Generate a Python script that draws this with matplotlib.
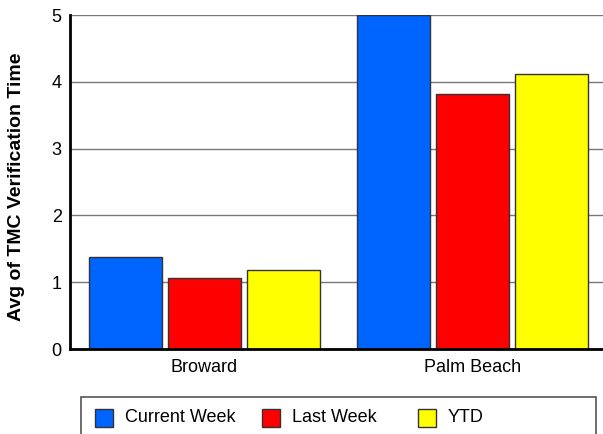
import matplotlib
matplotlib.use("Agg")
import matplotlib.pyplot as plt
from matplotlib.patches import Rectangle
import numpy as np

plt.rcParams['font.family'] = ['Liberation Sans', 'DejaVu Sans']

categories = ["Broward", "Palm Beach"]
series_names = ["Current Week", "Last Week", "YTD"]
current_week = [1.38, 5.0]
last_week = [1.07, 3.82]
ytd = [1.19, 4.11]
series_values = [current_week, last_week, ytd]
colors = ["#0064FF", "#FF0000", "#FFFF00"]
y_ticks = [0, 1, 2, 3, 4, 5]

W, H = 603, 434
fig = plt.figure(figsize=(W / 100, H / 100), dpi=100)
ax = fig.add_axes([70 / W, 85 / H, (607 - 70) / W, (349 - 15) / H])

x = np.arange(len(categories))
bw = 0.272
offs = [-0.294, 0.0, 0.294]
for vals, col, off, name in zip(series_values, colors, offs, series_names):
    ax.bar(x + off, vals, width=bw, color=col, edgecolor="#333333",
           linewidth=1.0, zorder=3, label=name)

ax.set_xlim(-0.5, 1.5)
ax.set_ylim(0, 5)
ax.set_yticks(y_ticks)
ax.set_yticklabels([str(t) for t in y_ticks], fontsize=13)
ax.set_xticks(x)
ax.set_xticklabels(categories, fontsize=13)
ax.tick_params(axis='y', length=0, pad=6)
ax.tick_params(axis='x', length=0, pad=7)
ax.yaxis.grid(True, color="#777777", linewidth=1.0, zorder=1)
ax.set_axisbelow(True)
for s in ["top", "right"]:
    ax.spines[s].set_visible(False)
for s in ["left", "bottom"]:
    ax.spines[s].set_color("black")
    ax.spines[s].set_linewidth(2)
    ax.spines[s].set_zorder(4)

fig.text(17 / W, 1 - 187 / H, "Avg of TMC Verification Time", rotation=90,
         ha="center", va="center", fontsize=14, fontweight="bold")

# legend (manual)
frame = Rectangle((81 / W, 1 - 445 / H), (596 - 81) / W, (445 - 397) / H,
                  transform=fig.transFigure, facecolor="white",
                  edgecolor="#555555", linewidth=1.2, clip_on=False)
fig.add_artist(frame)
patch_x = [95, 262, 418]
for px, col, name in zip(patch_x, colors, series_names):
    fig.add_artist(Rectangle((px / W, 1 - 427 / H), 18 / W, 18 / H,
                             transform=fig.transFigure, facecolor=col,
                             edgecolor="#333333", linewidth=1.0))
    fig.text((px + 30) / W, 1 - 418 / H, name, ha="left", va="center",
             fontsize=13)

fig.savefig("out.png", dpi=100)
